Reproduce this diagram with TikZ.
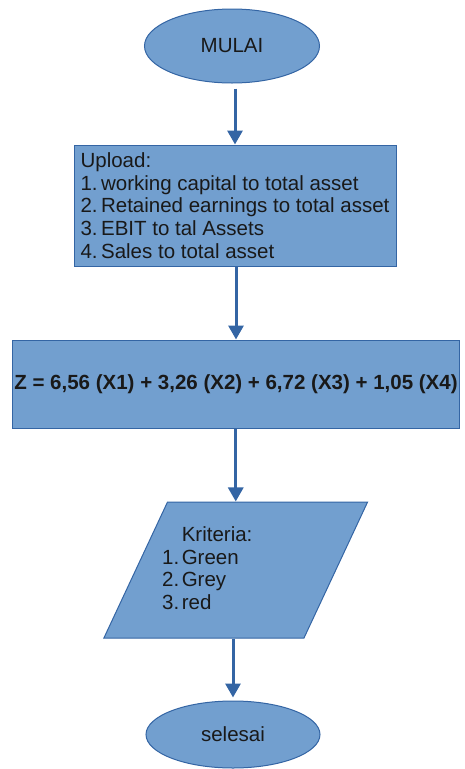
\documentclass[tikz,border=0pt]{standalone}
\usepackage{fontspec}
\setmainfont{Liberation Sans}
\definecolor{flowfill}{HTML}{729FCF}
\definecolor{flowline}{HTML}{3465A4}
\usetikzlibrary{arrows.meta,shapes.geometric}

\begin{document}
\begin{tikzpicture}[x=1pt,y=-1pt,
    flowshape/.style={fill=flowfill,draw=flowline,line width=1pt,inner sep=0,
      text=black!90,font=\fontsize{20.5}{22.7}\selectfont},
    flowarrow/.style={flowline,line width=3pt,
      -{Triangle[length=14pt,width=15pt]}}]
  \path[use as bounding box] (0,0) rectangle (464,769);
  \node[flowshape,ellipse,minimum width=175pt,minimum height=74pt]
    (mulai) at (232,46) {MULAI};
  \node[flowshape,rectangle,minimum width=322pt,minimum height=121pt,
    align=left]
    (upload) at (235,205.5) {Upload:\\
      1.\,working capital to total asset\\
      2.\,Retained earnings to total asset\\
      3.\,EBIT to tal Assets\\
      4.\,Sales to total asset};
  \node[flowshape,rectangle,minimum width=447.5pt,minimum height=88pt,
    font=\bfseries\fontsize{20.5}{24}\selectfont]
    (rumus) at (236,384) {Z = 6,56 (X1) + 3,26 (X2) + 6,72 (X3) + 1,05 (X4)};
  \node[flowshape,trapezium,trapezium left angle=65,trapezium right angle=115,
    trapezium stretches=true,inner sep=4pt,minimum width=264pt,minimum height=136pt]
    (kriteria) at (235.75,570) {};
  \node[anchor=west,inner sep=0,text=black!90,font=\fontsize{20.5}{22.5}\selectfont]
    (kriteriaisi) at (162,571) {\begin{tabular}{@{}l@{\hspace{2.5pt}}l@{}}
      & Kriteria:\\ 1. & Green\\ 2. & Grey\\ 3. & red\end{tabular}};
  \node[flowshape,ellipse,minimum width=174pt,minimum height=67pt]
    (selesai) at (233,734.5) {selesai};
  % panah antar langkah
  \foreach \dari/\ke/\awal/\akhir in {mulai/upload/5/0,upload/rumus/0/0,
      rumus/kriteria/0/0,kriteria/selesai/0/3}{
    \draw[flowarrow,shorten <=\awal pt,shorten >=\akhir pt]
      (\ke.north |- \dari.south) -- (\ke.north);
  }
\end{tikzpicture}
\end{document}
